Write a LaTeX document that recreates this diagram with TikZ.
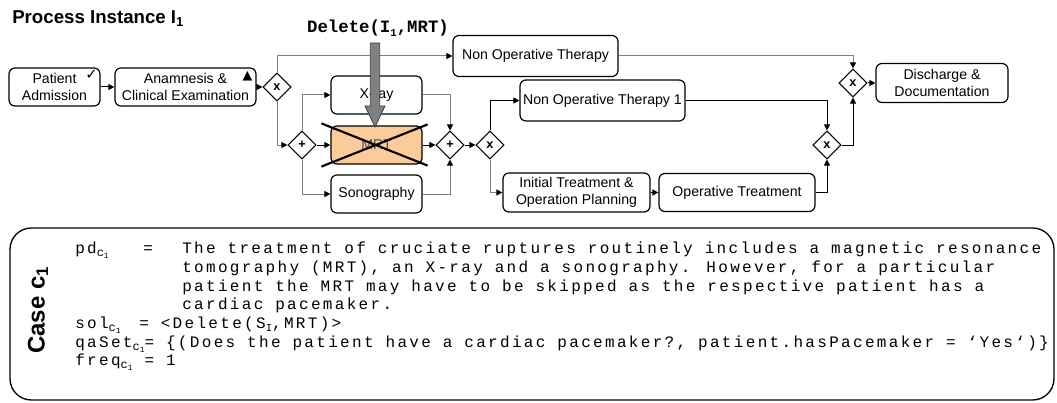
\documentclass[tikz,border=0pt]{standalone}
\usepackage{fontspec}
\setmainfont{Liberation Sans}
\newfontfamily\casemono[LetterSpace=14.5]{Liberation Mono}
\newfontfamily\delmono{Liberation Mono}
\newfontfamily\tickfont{DejaVu Sans}
\usetikzlibrary{shapes.geometric,arrows.meta,calc}
\definecolor{mrtfill}{RGB}{251,203,154}
\definecolor{lineg}{RGB}{128,128,128}
\newcommand{\csub}{\raisebox{-0.35ex}{\fontsize{9}{9}\selectfont c\raisebox{-0.3ex}{\fontsize{6}{6}\selectfont 1}}}

\begin{document}
\begin{tikzpicture}[x=0.75pt, y=-0.75pt,
  font=\fontsize{10.6}{12.75}\selectfont,
  task/.style={draw, line width=0.9pt, rounded corners=4.5pt, align=center,
    inner sep=1pt, minimum width=68.25pt, minimum height=28.5pt},
  gw/.style={diamond, draw, line width=0.8pt, minimum width=21pt, minimum height=21pt,
    inner sep=0pt, font=\fontsize{9.5}{9.5}\selectfont\bfseries},
  flow/.style={line width=0.75pt, -{Triangle[length=4.5pt, width=4.5pt, color=black]}},
  gflow/.style={flow, draw=lineg},
  tick/.style={anchor=north east, inner sep=2pt, font=\tickfont\fontsize{11}{11}\selectfont},
]
\useasboundingbox (0,0) rectangle (1057,403);
% titles
\node[anchor=base west, inner sep=0pt, font=\bfseries\fontsize{14}{14}\selectfont] (title) at (12,24) {Process Instance I\textsubscript{1}};
\node[font=\delmono\bfseries\fontsize{13}{13}\selectfont] (dellbl) at (378,28) {Delete(I\raisebox{-0.4ex}{\fontsize{8}{8}\selectfont 1},MRT)};
% process instance
\node[task, label={[tick]north east:✓}] (adm) at (54.5,87) {Patient\\Admission};
\node[task, minimum width=105.75pt, label={[tick, inner sep=3pt, font=\tickfont\fontsize{9.5}{9.5}\selectfont]north east:▲}] (anam) at (185.5,87) {Anamnesis \&\\Clinical Examination};
\node[gw] (xs1) at (277,87) {x};
\node[task, minimum width=123.75pt, minimum height=30.75pt] (nop) at (535.5,56) {Non Operative Therapy};
\node[gw] (asplit) at (302,145) {+};
\node[task] (xray) at (376.5,95) {X-ray};
\node[task, fill=mrtfill, text=black!70] (mrt) at (376.5,145) {MRT};
\node[task] (sono) at (376.5,194) {Sonography};
\node[gw] (ajoin) at (450,145) {+};
\node[gw] (xs2) at (490,145) {x};
\node[task, minimum width=123.75pt, minimum height=30.75pt] (nop1) at (602.5,100.5) {Non Operative Therapy 1};
\node[task, minimum width=110.25pt, minimum height=29.25pt] (itop) at (576.5,192.5) {Initial Treatment \&\\Operation Planning};
\node[task, minimum width=117pt] (optr) at (737,192.5) {Operative Treatment};
\node[gw] (xj1) at (827,145) {x};
\node[gw] (xj2) at (853,83) {x};
\node[task, minimum width=99pt, minimum height=29.25pt] (dis) at (942,83) {Discharge \&\\Documentation};
% flows
\draw[flow] (adm) -- (anam);
\draw[flow] (anam) -- (xs1);
\draw[gflow] (xs1.north) |- (nop);
\draw[gflow] (xs1.south) |- (asplit);
\draw[gflow] (asplit.north) |- (xray);
\draw[flow] (asplit) -- (mrt);
\draw[gflow] (asplit.south) |- (sono);
\draw[gflow] (xray) -| (ajoin.north);
\draw[flow] (mrt) -- (ajoin);
\draw[gflow] (sono) -| (ajoin.south);
\draw[flow] (ajoin) -- (xs2);
\draw[flow] (xs2.north) |- (nop1);
\draw[gflow] (xs2.south) |- (itop);
\draw[flow] (itop) -- (optr);
\draw[gflow] (nop) -| (xj2.north);
\draw[flow] (nop1) -| (xj1.north);
\draw[flow] (optr) -| (xj1.south);
\draw[flow] (xj1) -| (xj2.south);
\draw[flow] (xj2) -- (dis);
% deletion of MRT
\draw[line width=1.6pt] ([shift={(-9,-2)}]mrt.north west) -- ([shift={(5,1)}]mrt.south east);
\draw[line width=1.6pt] ([shift={(-9,2)}]mrt.south west) -- ([shift={(5,-1)}]mrt.north east);
\filldraw[fill=gray, draw=black!75, line width=0.6pt]
  (370.3,43) -- (379.7,43) -- (379.7,106) -- (385,106) -- (375,127) -- (365,106) -- (370.3,106) -- cycle;
% case
\draw[line width=1pt, rounded corners=16pt] (10,228) rectangle (1054,400);
\node[rotate=90, font=\bfseries\fontsize{18}{18}\selectfont] (caselbl) at (38,310) {Case c\textsubscript{1}};
\node[anchor=north west, inner sep=0pt, align=left, font=\casemono\fontsize{12}{14}\selectfont] (casetxt) at (75,242) {%
\makebox[51pt][l]{pd\csub}\makebox[29.25pt][l]{=}The treatment of cruciate ruptures routinely includes a magnetic resonance\\
\hspace*{80.25pt}tomography (MRT), an X-ray and a sonography. However, for a particular\\
\hspace*{80.25pt}patient the MRT may have to be skipped as the respective patient has a\\
\hspace*{80.25pt}cardiac pacemaker.\\
\makebox[48pt][l]{sol\csub}= <Delete(S\raisebox{-0.35ex}{\fontsize{8}{8}\selectfont I},MRT)>\\
qaSet\csub= \{(Does the patient have a cardiac pacemaker?, patient.hasPacemaker = ‘Yes‘)\}\\
freq\csub{} = 1};
\end{tikzpicture}
\end{document}
